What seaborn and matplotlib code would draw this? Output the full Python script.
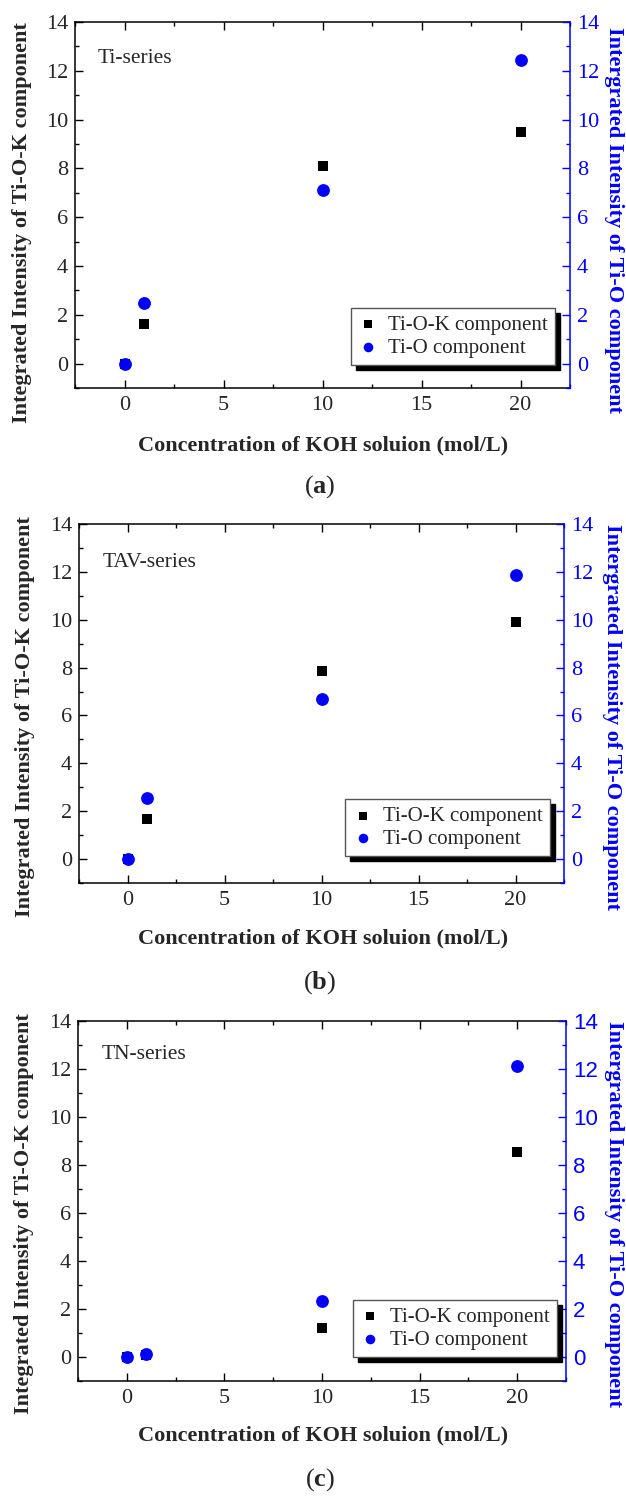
import numpy as np
import seaborn as sns
import matplotlib.pyplot as plt
from matplotlib.patches import Shadow
from matplotlib.ticker import MultipleLocator

# KOH concentration (mol/L)
koh = [0, 1, 10, 20]

# Ti-series
ti_tiok = [0, 1.63, 8.08, 9.51]
ti_tio = [0, 2.48, 7.1, 12.45]
# TAV-series
tav_tiok = [0, 1.68, 7.87, 9.91]
tav_tio = [0, 2.57, 6.69, 11.86]
# TN-series
tn_tiok = [0, 0.1, 1.22, 8.54]
tn_tio = [0, 0.14, 2.32, 12.13]

series_names = ["Ti-series", "TAV-series", "TN-series"]
panel_letters = ["a", "b", "c"]
label_tiok = "Ti-O-K component"
label_tio = "Ti-O component"

sns.set_style("ticks")
plt.rcParams['font.family'] = ['Liberation Serif', 'DejaVu Serif']
plt.rcParams['mathtext.fontset'] = 'custom'
plt.rcParams['mathtext.rm'] = 'Liberation Serif'
plt.rcParams['mathtext.bf'] = 'Liberation Serif:bold'

W, H = 626, 1497
fig = plt.figure(figsize=(W / 100, H / 100), dpi=100)


def px(x, y):
    # pixel coords -> figure fraction
    return x / W, 1 - y / H


def panel(box, tiok, tio, name, letter, name_pos, leg_pos, xlab_y, let_y, ylab_l, ylab_r, right_font):
    left, top, right, bottom = box
    ax = fig.add_axes([left / W, 1 - bottom / H, (right - left) / W, (bottom - top) / H])
    ax2 = ax.twinx()

    sns.scatterplot(x=koh, y=tiok, marker='s', color='black', s=62, linewidth=0, ax=ax, label=label_tiok, zorder=3)
    sns.scatterplot(x=koh, y=tio, marker='o', color='#0000ff', s=85, linewidth=0, ax=ax2, label=label_tio, zorder=3)

    for a in (ax, ax2):
        if a.get_legend() is not None:
            a.get_legend().remove()
        a.set_xlim(-2.5, 22.5)
        a.set_ylim(-1, 14)
        a.set_xlabel("")
        a.set_ylabel("")

    ax.xaxis.set_major_locator(MultipleLocator(5))
    ax.xaxis.set_minor_locator(MultipleLocator(2.5))
    for a in (ax, ax2):
        a.yaxis.set_major_locator(MultipleLocator(2))
        a.yaxis.set_minor_locator(MultipleLocator(1))

    ax.tick_params(which='both', direction='in', top=True, right=False, labelsize=16, width=1, color='black')
    ax.tick_params(which='major', length=6)
    ax.tick_params(which='minor', length=3)
    ax.tick_params(axis='x', pad=6)
    ax.tick_params(axis='y', pad=5)
    ax2.tick_params(which='both', direction='in', colors='#0000ff', labelsize=16, width=1, pad=5)
    ax2.tick_params(which='major', length=6)
    ax2.tick_params(which='minor', length=3)
    for t in ax2.get_yticklabels():
        t.set_family(right_font)

    for sp in ax.spines.values():
        sp.set_linewidth(1.1)
        sp.set_color('black')
    for sp in ax2.spines.values():
        sp.set_linewidth(1.1)
        sp.set_visible(False)
    ax2.spines['right'].set_visible(True)
    ax2.spines['right'].set_color('#0000ff')
    ax.spines['right'].set_visible(False)

    ax.text(name_pos[0], name_pos[1], name, transform=ax.transAxes, fontsize=15.5, ha='left', va='center')

    h1, l1 = ax.get_legend_handles_labels()
    h2, l2 = ax2.get_legend_handles_labels()
    leg = ax2.legend(h1 + h2, l1 + l2, loc='lower right', bbox_to_anchor=leg_pos, borderaxespad=0,
                     fontsize=15, frameon=True, fancybox=False, framealpha=1, edgecolor='#555555',
                     markerscale=0.75, handlelength=1.0, handletextpad=0.45, borderpad=0.35,
                     labelspacing=0.15)
    leg.get_frame().set_linewidth(1.0)

    fig.text(*px(323, xlab_y), "Concentration of KOH soluion (mol/L)", fontsize=16, fontweight='bold',
             ha='center', va='center')
    fig.text(*px(ylab_l[0], ylab_l[1]), "Integrated Intensity of Ti-O-K component", fontsize=16,
             fontweight='bold', rotation=90, ha='center', va='center')
    fig.text(*px(ylab_r[0], ylab_r[1]), "Intergrated Intensity of Ti-O component", fontsize=16,
             fontweight='bold', rotation=270, ha='center', va='center', color='#0000ff')
    fig.text(*px(320, let_y), "(" + r"$\mathbf{" + letter + "}$" + ")", fontsize=19, ha='center', va='center')
    return ax2, leg


panels = []
panels.append(panel((75, 22, 570, 388), ti_tiok, ti_tio, series_names[0], panel_letters[0],
                    (0.046, 0.90), (0.970, 0.063), 445, 487, (22, 223), (614, 220), 'Liberation Serif'))
panels.append(panel((79, 524, 564, 883), tav_tiok, tav_tio, series_names[1], panel_letters[1],
                    (0.049, 0.894), (0.971, 0.075), 938, 983, (25, 717), (612, 717), 'Liberation Serif'))
panels.append(panel((78, 1021, 566, 1381), tn_tiok, tn_tio, series_names[2], panel_letters[2],
                    (0.049, 0.906), (0.982, 0.067), 1435, 1480, (24, 1214), (614, 1214), 'Liberation Sans'))

# black drop shadow behind each legend box
fig.canvas.draw()
for ax2, leg in panels:
    sh = Shadow(leg.legendPatch, 3.6, -3.6, facecolor='black', edgecolor='black', alpha=1, zorder=4.9)
    sh.set_clip_on(False)
    ax2.add_artist(sh)

fig.savefig("out.png", dpi=100)
